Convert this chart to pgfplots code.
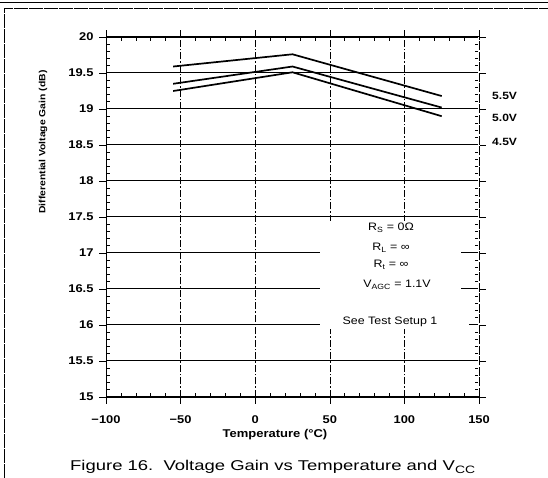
\documentclass[border=0pt]{standalone}
\usepackage{pgfplots}
\pgfplotsset{compat=1.18}
\usepackage{fontspec}
\setmainfont{Liberation Sans}[FakeStretch=1.15]
\newfontfamily\capfont{Liberation Sans}[FakeStretch=1.3]
\begin{document}
\begin{tikzpicture}[x=1pt,y=1pt]
\useasboundingbox (0,0) rectangle (548,478);
% outer frame
\draw[line width=1.2pt] (0,475.5) -- (548,475.5);
\draw[line width=0.6pt, dash pattern=on 14pt off 1pt] (4,0) -- (4,470) -- (548,470);
\begin{axis}[at={(106pt,81pt)}, anchor=south west, scale only axis,
  width=373pt, height=360pt,
  xmin=-100, xmax=150, ymin=15, ymax=20,
  xtick={-100,-50,0,50,100,150},
  xticklabels={−100,−50,0,50,100,150},
  ytick={15,15.5,16,16.5,17,17.5,18,18.5,19,19.5,20},
  yticklabels={15,15.5,16,16.5,17,17.5,18,18.5,19,19.5,20},
  minor x tick num=4, minor y tick num=4,
  tick align=inside,
  major tick length=-7pt, minor tick length=4pt,
  tick style={black, line width=0.6pt},
  grid=major,
  x grid style={black, line width=0.6pt, dash pattern=on 7pt off 2pt on 1.5pt off 2pt},
  y grid style={black, line width=1pt},
  axis line style={black, line width=0.8pt},
  ticklabel style={font=\fontsize{11.2}{13}\selectfont\bfseries},
  yticklabel style={xshift=-9pt},
  xticklabel style={yshift=-15pt},
  clip=false,
]
\addplot[black, line width=1.7pt] coordinates {(-55,19.59) (25,19.76) (125,19.18)};
\addplot[black, line width=1.7pt] coordinates {(-55,19.35) (25,19.59) (125,19.02)};
\addplot[black, line width=1.7pt] coordinates {(-55,19.25) (25,19.51) (125,18.90)};
\end{axis}
% right axis line drawn dashed like the scan
\draw[white, line width=1.2pt] (479,81.5) -- (479,440.5);
\draw[black, line width=0.8pt, dash pattern=on 9pt off 1.5pt] (479,81) -- (479,441);
% clear region behind the conditions text
\fill[white] (319.5,149.4) rectangle (461,257.4);
\fill[white] (461,149.4) rectangle (469,165);
% conditions text
\begin{scope}[every node/.style={font=\fontsize{10.8}{12}\selectfont, inner sep=0pt}]
\node at (391,250) {R\textsubscript{S} = 0Ω};
\node at (391,230) {R\textsubscript{L} = ∞};
\node at (391,213) {R\textsubscript{t} = ∞};
\node at (397,193) {V\textsubscript{AGC} = 1.1V};
\node at (390,156) {See Test Setup 1};
\end{scope}
% supply labels
\begin{scope}[every node/.style={font=\fontsize{10.5}{12}\selectfont\bfseries, anchor=west, inner sep=0pt}]
\node at (492,382) {5.5V};
\node at (492,360) {5.0V};
\node at (492,336) {4.5V};
\end{scope}
% axis titles
\node[font=\fontsize{11.3}{13}\selectfont\bfseries, inner sep=0pt] at (275,43) {Temperature (°C)};
\node[font=\fontsize{9}{11}\selectfont\bfseries, rotate=90, inner sep=0pt] at (43,336) {Differential Voltage Gain (dB)};
% caption
\node[font=\capfont\fontsize{14.2}{17}\selectfont, anchor=west, inner sep=0pt] at (70,11) {Figure 16.\ \ Voltage Gain vs Temperature and V\raisebox{-0.4ex}{\fontsize{10.7}{11}\selectfont CC}};
\end{tikzpicture}
\end{document}
